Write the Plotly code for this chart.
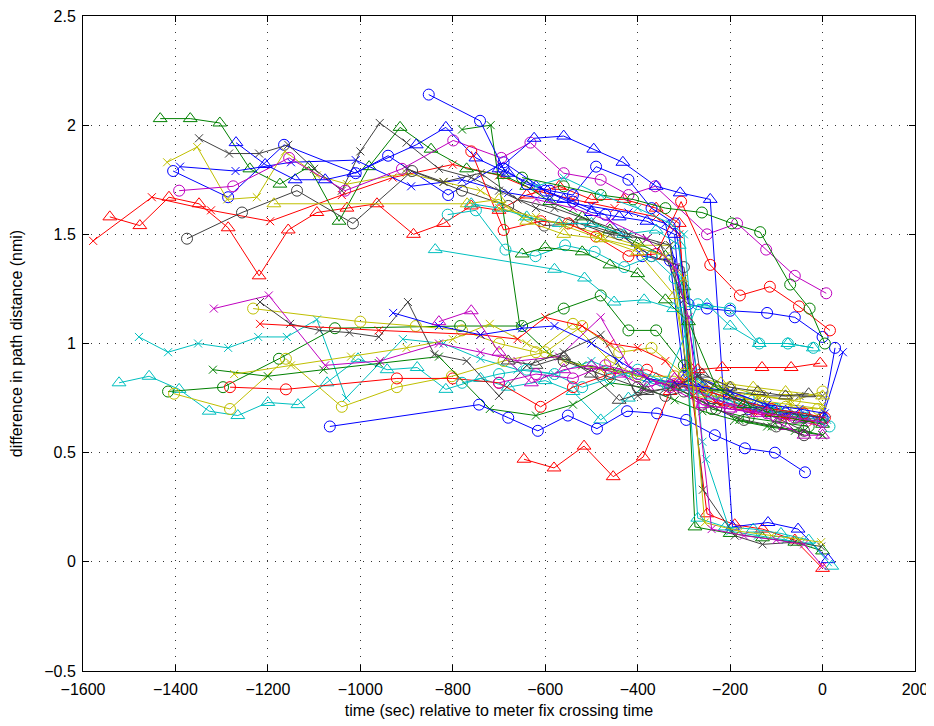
import plotly.graph_objects as go

# ---- data (time in sec relative to meter fix, difference in nmi) ----
u01_x = [-1578, -1451, -1323, -1195, -1040, -930, -800, -700, -620, -540, -450, -360, -310, -285, -230, -150, -80, 0]
u01_y = [1.47, 1.67, 1.61, 1.56, 1.68, 1.76, 1.82, 1.77, 1.70, 1.66, 1.62, 1.58, 1.50, 0.82, 0.73, 0.69, 0.67, 0.65]
u02_x = [-1542, -1477, -1414, -1349, -1286, -1219, -1156, -1094, -1029, -964, -885, -820, -760, -700, -640, -570, -500, -430, -360, -310, -290, -250, -190, -130, -60, 0]
u02_y = [1.58, 1.54, 1.67, 1.64, 1.53, 1.31, 1.52, 1.60, 1.62, 1.64, 1.50, 1.55, 1.63, 1.61, 1.68, 1.72, 1.66, 1.66, 1.62, 1.55, 0.90, 0.22, 0.17, 0.15, 0.10, -0.03]
u03_x = [-1433, -1368, -1304, -1239, -1174, -1111, -1046, -981, -914, -847, -770, -690, -640, -590, -520, -460, -400, -340, -300, -276, -200, -130, -60, 0]
u03_y = [2.03, 2.03, 2.01, 1.80, 1.73, 1.81, 1.56, 1.81, 1.99, 1.89, 1.80, 1.77, 1.72, 1.65, 1.58, 1.52, 1.46, 1.40, 1.26, 0.16, 0.13, 0.11, 0.09, 0.05]
u04_x = [-1405, -1286, -1165, -1010, -940, -810, -690, -600, -540, -470, -390, -330, -300, -240, -160, -80, 0, 27]
u04_y = [1.79, 1.67, 1.91, 1.78, 1.86, 1.68, 1.83, 1.70, 1.65, 1.59, 1.40, 1.38, 0.85, 0.75, 0.70, 0.68, 0.66, 0.98]
u05_x = [-1390, -1270, -1150, -1010, -890, -780, -680, -590, -500, -420, -340, -300, -270, -200, -120, -50, 0, 44]
u05_y = [1.81, 1.79, 1.83, 1.84, 1.72, 1.75, 1.69, 1.66, 1.63, 1.60, 1.55, 1.20, 0.85, 0.78, 0.72, 0.67, 0.66, 0.96]
u06_x = [-1418, -1353, -1288, -1224, -1163, -1094, -1029, -900, -820, -740, -650, -560, -480, -400, -330, -290, -220, -140, -70, 0]
u06_y = [1.83, 1.90, 1.66, 1.67, 1.88, 1.77, 1.73, 1.78, 1.74, 1.70, 1.58, 1.55, 1.50, 1.45, 1.45, 0.80, 0.75, 0.74, 0.72, 0.70]
u07_x = [-1349, -1284, -1219, -1156, -1100, -1040, -1000, -958, -900, -830, -760, -700, -620, -540, -460, -380, -330, -280, -200, -120, -50, 0]
u07_y = [1.94, 1.87, 1.87, 1.91, 1.80, 1.70, 1.88, 2.01, 1.92, 1.80, 1.76, 1.70, 1.62, 1.56, 1.50, 1.48, 1.45, 0.85, 0.78, 0.76, 0.76, 0.76]
u08_x = [-1375, -1256, -1137, -1016, -888, -780, -680, -602, -520, -440, -370, -300, -260, -180, -100, -40]
u08_y = [1.48, 1.60, 1.70, 1.55, 1.79, 1.70, 1.63, 1.54, 1.55, 1.50, 1.40, 1.35, 0.80, 0.72, 0.66, 0.60]
u09_x = [-1392, -1275, -1154, -1033, -910, -799, -695, -632, -560, -480, -420, -362, -250, -185, -122, -60, 8]
u09_y = [1.70, 1.72, 1.85, 1.70, 1.80, 1.93, 1.85, 1.92, 1.78, 1.75, 1.68, 1.72, 1.50, 1.55, 1.43, 1.31, 1.23]
u10_x = [-780, -718, -655, -590, -520, -450, -380, -320, -250, -180, -110, -40, 0]
u10_y = [1.98, 2.00, 1.08, 0.95, 0.90, 0.88, 0.84, 0.80, 0.72, 0.65, 0.62, 0.60, 0.58]
u11_x = [-1269, -1206, -1141, -1076, -1014, -879, -815, -750, -680, -620, -560, -500, -440, -380, -320, -295, -260, -200, -140, -80, -30]
u11_y = [1.92, 1.82, 1.75, 1.75, 1.78, 1.91, 1.99, 1.85, 1.78, 1.72, 1.66, 1.60, 1.58, 1.56, 1.50, 0.85, 0.80, 0.76, 0.72, 0.69, 0.66]
u12_x = [-700, -624, -560, -495, -432, -360, -308, -243, -195, -118, -53, 12]
u12_y = [1.80, 1.94, 1.95, 1.89, 1.83, 1.72, 1.69, 1.66, 0.16, 0.18, 0.15, 0.01]
u13_x = [-852, -741, -690, -640, -590, -540, -490, -420, -370, -320, -290, -250, -200, -120, -60, 0]
u13_y = [2.14, 2.02, 1.80, 1.73, 1.70, 1.68, 1.81, 1.75, 1.62, 1.55, 1.18, 1.16, 1.15, 1.14, 1.12, 1.03]
u14_x = [-760, -690, -610, -550, -490, -420, -360, -306, -243, -179, -114, -51, 16]
u14_y = [1.88, 1.52, 1.56, 1.55, 1.49, 1.40, 1.41, 1.65, 1.36, 1.22, 1.26, 1.17, 1.06]
u15_x = [-650, -560, -480, -410, -340, -261, -196, -135, -70, -28, 5]
u15_y = [1.76, 1.72, 1.68, 1.66, 1.62, 1.60, 1.55, 1.51, 1.27, 1.16, 1.00]
u16_x = [-1187, -769, -700, -640, -560, -480, -400, -320, -290, -220, -150, -80, 0]
u16_y = [1.64, 1.64, 1.66, 1.56, 1.50, 1.48, 1.42, 1.22, 0.85, 0.82, 0.80, 0.78, 0.76]
c01_x = [-811, -750, -686, -621, -557, -493, -429, -370, -320, -280, -230, -160, -100, -40, 15]
c01_y = [1.59, 1.61, 1.43, 1.40, 1.45, 1.42, 1.35, 1.40, 1.30, 0.85, 0.78, 0.75, 0.70, 0.66, 0.62]
c02_x = [-838, -580, -515, -451, -386, -322, -250, -200, -137, -75, -20]
c02_y = [1.43, 1.34, 1.30, 1.19, 1.20, 1.16, 1.18, 1.08, 1.00, 1.00, 0.98]
c03_x = [-620, -560, -480, -400, -330, -300, -260, -252, -200, -140, -80, -20]
c03_y = [1.72, 1.76, 1.68, 1.62, 1.55, 1.50, 0.55, 0.47, 0.14, 0.12, 0.10, 0.08]
m01_x = [-1522, -1457, -1392, -1327, -1265, -1200, -1135, -1072, -1005, -942, -877, -815, -740, -680, -600, -540, -480, -420, -360, -300, -240, -170, -100, -40, 0]
m01_y = [0.82, 0.85, 0.79, 0.69, 0.67, 0.73, 0.72, 0.82, 0.93, 0.88, 0.89, 0.79, 0.84, 0.80, 0.83, 0.78, 0.65, 0.75, 0.84, 0.80, 0.76, 0.72, 0.70, 0.68, 0.66]
m02_x = [-1479, -1416, -1351, -1286, -1221, -1159, -1094, -1031, -908, -820, -740, -660, -580, -500, -420, -340, -280, -200, -120, -50, 10]
m02_y = [1.03, 0.96, 1.00, 0.98, 1.03, 1.03, 1.11, 0.75, 1.02, 1.00, 0.93, 0.88, 0.86, 0.92, 0.85, 0.80, 0.78, 0.72, 0.68, 0.66, 0.65]
m03_x = [-1416, -1297, -1176, -1055, -784, -650, -560, -480, -420, -360, -300, -240, -160, -90, -30]
m03_y = [0.78, 0.80, 0.93, 1.07, 1.08, 1.08, 1.16, 1.22, 1.06, 1.06, 0.90, 0.70, 0.66, 0.64, 0.62]
m04_x = [-1403, -1282, -1161, -1040, -921, -802, -690, -600, -520, -440, -370, -300, -230, -150, -80, -10]
m04_y = [0.77, 0.70, 0.93, 0.71, 0.80, 0.85, 0.92, 0.96, 1.08, 0.96, 0.98, 0.86, 0.78, 0.74, 0.71, 0.70]
m05_x = [-1282, -1161, -921, -800, -700, -610, -540, -460, -380, -310, -250, -180, -110, -40, 5]
m05_y = [0.80, 0.79, 0.84, 0.84, 0.82, 0.71, 0.80, 0.86, 0.88, 0.82, 0.78, 0.74, 0.70, 0.68, 0.66]
m06_x = [-1319, -1200, -1080, -960, -830, -720, -620, -540, -460, -390, -320, -260, -190, -120, -60, 0]
m06_y = [0.88, 0.85, 0.88, 0.91, 0.94, 0.70, 0.67, 0.72, 0.82, 0.80, 0.74, 0.69, 0.65, 0.62, 0.60, 0.58]
m07_x = [-1273, -1150, -1020, -900, -800, -720, -640, -560, -480, -410, -340, -280, -210, -140, -70, 0]
m07_y = [0.86, 0.90, 0.94, 0.98, 1.02, 1.09, 1.00, 0.92, 0.88, 0.86, 0.82, 0.80, 0.78, 0.76, 0.74, 0.72]
m08_x = [-1232, -1000, -880, -780, -700, -620, -540, -460, -400, -320, -260, -200, -130, -60, 0]
m08_y = [1.16, 1.10, 1.08, 1.06, 1.00, 0.96, 1.09, 0.92, 0.85, 0.85, 0.78, 0.80, 0.76, 0.74, 0.78]
m09_x = [-1317, -1198, -1076, -957, -830, -740, -660, -570, -480, -420, -360, -290, -230, -160, -100, -40, 0]
m09_y = [1.16, 1.22, 0.90, 0.92, 1.00, 0.96, 0.92, 0.94, 1.12, 0.90, 0.82, 0.80, 0.74, 0.70, 0.66, 0.64, 0.62]
m10_x = [-1217, -1152, -1089, -1024, -960, -897, -840, -770, -700, -640, -560, -480, -400, -330, -270, -200, -130, -60, 0]
m10_y = [1.19, 1.09, 1.06, 1.05, 1.03, 1.19, 0.95, 0.92, 0.76, 0.90, 0.96, 1.04, 0.76, 0.80, 0.85, 0.76, 0.70, 0.68, 0.66]
m11_x = [-1217, -960, -740, -660, -600, -520, -460, -400, -340, -280, -220, -150, -80, -20]
m11_y = [1.09, 1.06, 1.04, 1.02, 1.12, 1.08, 1.00, 0.98, 0.92, 0.76, 0.72, 0.68, 0.66, 0.64]
m12_x = [-1066, -743, -680, -616, -551, -488, -423, -358, -295, -233, -168, -103, -38]
m12_y = [0.62, 0.72, 0.66, 0.60, 0.67, 0.61, 0.69, 0.68, 0.65, 0.58, 0.52, 0.50, 0.41]
m13_x = [-646, -581, -516, -453, -388, -330, -270, -217, -131, -68, -5]
m13_y = [0.47, 0.43, 0.53, 0.39, 0.48, 0.78, 0.88, 0.89, 0.89, 0.89, 0.91]
m14_x = [-929, -830, -740, -650, -580, -500, -440, -380, -320, -260, -200, -120, -50, 5]
m14_y = [1.14, 1.08, 1.04, 1.07, 1.08, 1.00, 0.92, 0.84, 0.82, 0.80, 0.78, 0.72, 0.70, 0.68]
m15_x = [-830, -760, -700, -630, -560, -500, -440, -380, -320, -260, -200, -140, -80, -40, 0]
m15_y = [1.10, 1.15, 0.96, 0.82, 0.88, 0.90, 0.86, 0.80, 0.84, 0.72, 0.70, 0.68, 0.62, 0.58, 0.58]
m16_x = [-680, -620, -560, -500, -440, -380, -320, -260, -200, -140, -80, -30]
m16_y = [0.92, 0.90, 0.94, 0.86, 0.74, 0.78, 0.80, 0.86, 0.80, 0.78, 0.76, 0.77]
m17_x = [-780, -700, -640, -580, -520, -460, -400, -340, -270, -200, -137, -75, -20]
m17_y = [0.82, 0.86, 0.88, 0.86, 0.80, 0.84, 0.88, 0.82, 1.18, 1.16, 1.00, 1.00, 0.98]
m18_x = [-650, -600, -520, -460, -400, -340, -290, -230, -170, -110, -50, 0]
m18_y = [1.41, 1.44, 1.42, 1.36, 1.32, 1.20, 1.10, 0.80, 0.72, 0.68, 0.65, 0.63]
m19_x = [-560, -480, -400, -340, -300, -230, -170, -100, -40]
m19_y = [0.92, 0.86, 0.80, 0.76, 0.78, 0.70, 0.65, 0.62, 0.58]
m20_x = [-700, -620, -540, -470, -400, -330, -260, -200, -120, -60, 0]
m20_y = [0.82, 0.86, 0.84, 0.90, 0.86, 0.80, 0.72, 0.70, 0.68, 0.66, 0.64]
z01_x = [-760, -700, -640, -570, -500, -430, -360, -310, -270, -210, -150, -90, -30, 20]
z01_y = [1.64, 1.62, 1.58, 1.55, 1.55, 1.50, 1.52, 1.45, 0.20, 0.16, 0.15, 0.13, 0.10, -0.02]
z02_x = [-900, -820, -740, -660, -580, -500, -420, -350, -300, -259, -190, -130, -60, -3]
z02_y = [1.80, 1.74, 1.78, 1.66, 1.62, 1.56, 1.50, 1.45, 1.20, 0.33, 0.12, 0.08, 0.09, 0.07]
z03_x = [-700, -620, -560, -480, -400, -340, -300, -255, -180, -110, -50, -3]
z03_y = [1.62, 1.58, 1.54, 1.48, 1.44, 1.40, 1.30, 0.18, 0.14, 0.12, 0.10, 0.09]
z04_x = [-620, -540, -460, -380, -320, -290, -240, -170, -100, -40, 0]
z04_y = [1.66, 1.62, 1.56, 1.48, 1.35, 1.12, 0.15, 0.12, 0.10, 0.08, -0.02]

x_ticks = [-1600, -1400, -1200, -1000, -800, -600, -400, -200, 0, 200]
x_tick_text = ["\u22121600", "\u22121400", "\u22121200", "\u22121000", "\u2212800",
               "\u2212600", "\u2212400", "\u2212200", "0", "200"]
y_ticks = [-0.5, 0, 0.5, 1, 1.5, 2, 2.5]
y_tick_text = ["\u22120.5", "0", "0.5", "1", "1.5", "2", "2.5"]

# ---- styles ----
B, G, R, C, M, Y, K = "#0000FF", "#008000", "#FF0000", "#00BFBF", "#BF00BF", "#BFBF00", "#404040"
O, X, T = "circle-open", "x-thin-open", "triangle-up-open"

series = [
    (u01_x, u01_y, R, X), (u02_x, u02_y, R, T), (u03_x, u03_y, G, T),
    (u04_x, u04_y, B, O), (u05_x, u05_y, B, X), (u06_x, u06_y, Y, X),
    (u07_x, u07_y, K, X), (u08_x, u08_y, K, O), (u09_x, u09_y, M, O),
    (u10_x, u10_y, G, X), (u11_x, u11_y, B, T), (u12_x, u12_y, B, T),
    (u13_x, u13_y, B, O), (u14_x, u14_y, R, O), (u15_x, u15_y, G, O),
    (u16_x, u16_y, Y, T), (c01_x, c01_y, C, O), (c02_x, c02_y, C, T),
    (c03_x, c03_y, C, X), (m01_x, m01_y, C, T), (m02_x, m02_y, C, X),
    (m03_x, m03_y, G, O), (m04_x, m04_y, Y, O), (m05_x, m05_y, R, O),
    (m06_x, m06_y, G, X), (m07_x, m07_y, Y, X), (m08_x, m08_y, Y, O),
    (m09_x, m09_y, M, X), (m10_x, m10_y, K, X), (m11_x, m11_y, R, X),
    (m12_x, m12_y, B, O), (m13_x, m13_y, R, T), (m14_x, m14_y, B, X),
    (m15_x, m15_y, M, T), (m16_x, m16_y, K, T), (m17_x, m17_y, C, O),
    (m18_x, m18_y, G, T), (m19_x, m19_y, K, O), (m20_x, m20_y, M, O),
    (z01_x, z01_y, C, T), (z02_x, z02_y, K, X), (z03_x, z03_y, Y, X),
    (z04_x, z04_y, M, X),
]

msize = {O: 11, X: 8, T: 12}

fig = go.Figure()
for xs, ys, col, sym in series:
    fig.add_trace(go.Scatter(
        x=xs, y=ys, mode="lines+markers",
        line=dict(color=col, width=1),
        marker=dict(symbol=sym, size=msize[sym], color=col,
                    line=dict(color=col, width=1)),
        showlegend=False, hoverinfo="skip",
    ))

axis_common = dict(
    showline=True, linecolor="black", linewidth=1, mirror="ticks",
    ticks="inside", ticklen=6, tickcolor="black",
    showgrid=True, gridcolor="#333333", gridwidth=1, griddash="1px,7px",
    zeroline=False, tickfont=dict(size=16, color="black"),
    automargin=False, ticklabeloverflow="allow",
)

fig.update_xaxes(range=[-1600, 200], tickvals=x_ticks, ticktext=x_tick_text,
                 ticklabelstandoff=4,
                 title=dict(text="time (sec) relative to meter fix crossing time",
                            font=dict(size=16, color="black"), standoff=7),
                 **axis_common)
fig.update_yaxes(range=[-0.5, 2.5], tickvals=y_ticks, ticktext=y_tick_text,
                 ticklabelstandoff=3,
                 title=dict(text="difference in path distance (nmi)",
                            font=dict(size=16, color="black"), standoff=17),
                 **axis_common)

# page body has an 8px default margin, so the figure is offset by 8px
fig.update_layout(
    width=926, height=718,
    margin=dict(l=75, r=19, t=8, b=55),
    paper_bgcolor="white", plot_bgcolor="white",
    font=dict(family="Liberation Sans, Arial, sans-serif", color="black"),
)

fig.write_html("out.html")
